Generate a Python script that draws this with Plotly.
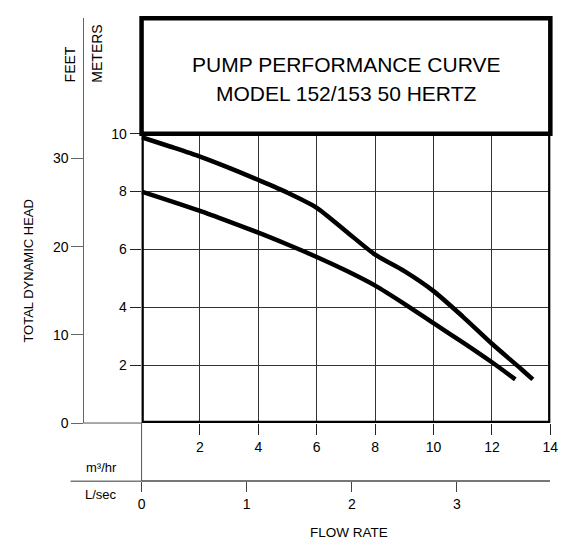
import plotly.graph_objects as go

# ---------------- data ----------------
flow_upper = [0, 1, 2, 3, 4, 5, 6, 7, 8, 9, 10, 11, 12, 13, 13.4]
head_upper = [9.88, 9.55, 9.21, 8.82, 8.40, 7.96, 7.44, 6.63, 5.82, 5.25, 4.56, 3.68, 2.74, 1.87, 1.51]
flow_lower = [0, 1, 2, 3, 4, 5, 6, 7, 8, 9, 10, 11, 12, 12.8]
head_lower = [8.0, 7.67, 7.33, 6.96, 6.58, 6.17, 5.74, 5.27, 4.75, 4.12, 3.45, 2.79, 2.10, 1.51]

m3hr_ticks = [2, 4, 6, 8, 10, 12, 14]
meter_ticks = [2, 4, 6, 8, 10]
feet_ticks = [0, 10, 20, 30]
lsec_ticks = [0, 1, 2, 3]

title_lines = ["PUMP PERFORMANCE CURVE", "MODEL 152/153 50 HERTZ"]

FLOW_MAX = 14          # m3/hr
HEAD_MAX_M = 10        # meters
M_PER_FT = 0.3048
M3HR_PER_LS = 3.6

# ---------------- geometry (pixels) ----------------
W, H = 574, 549
X0_PX, X1_PX = 140.5, 558.0
Y0_PX, Y1_PX = 427.5, 129.5
BOX_TOP_PX = 10.5
FEET_AXIS_PX = 81.0
LSEC_AXIS_PX = 487.5


def px(x):
    return x / W


def py(y):
    return 1 - y / H


m_per_px = HEAD_MAX_M / (Y0_PX - Y1_PX)
box_top_m = (Y0_PX - BOX_TOP_PX) * m_per_px

FONT = "Liberation Sans, Arial, sans-serif"
BLACK = "#000000"

fig = go.Figure()

for fx, hy in [(flow_upper, head_upper), (flow_lower, head_lower)]:
    fig.add_trace(go.Scatter(
        x=fx, y=hy, mode="lines", xaxis="x", yaxis="y",
        line=dict(color=BLACK, width=4.5, shape="spline", smoothing=0.7),
        hoverinfo="skip", showlegend=False))

# empty trace registering the secondary (L/sec, feet) axes
fig.add_trace(go.Scatter(x=[], y=[], xaxis="x2", yaxis="y2", showlegend=False, hoverinfo="skip"))

tickfont = dict(family=FONT, size=14, color=BLACK)

fig.update_layout(
    width=W, height=H, autosize=False,
    margin=dict(l=0, r=0, t=0, b=0, pad=0),
    paper_bgcolor="white", plot_bgcolor="rgba(0,0,0,0)",
    font=dict(family=FONT, color=BLACK),
    xaxis=dict(domain=[px(X0_PX), px(X1_PX)], range=[0, FLOW_MAX], anchor="y",
               tickmode="array", tickvals=m3hr_ticks, ticks="outside", ticklen=11,
               tickcolor="#222", tickwidth=1, showgrid=True, gridcolor="#333", gridwidth=1,
               showline=False, zeroline=False, tickfont=tickfont, fixedrange=True),
    yaxis=dict(domain=[py(Y0_PX), py(Y1_PX)], range=[0, HEAD_MAX_M], anchor="x",
               tickmode="array", tickvals=meter_ticks, ticks="outside", ticklen=11,
               tickcolor="#222", tickwidth=1, showgrid=True, gridcolor="#333", gridwidth=1,
               showline=False, zeroline=False, tickfont=tickfont, fixedrange=True),
    xaxis2=dict(domain=[px(X0_PX), px(X1_PX)], range=[0, FLOW_MAX / M3HR_PER_LS],
                anchor="free", position=py(LSEC_AXIS_PX), side="bottom",
                tickmode="array", tickvals=lsec_ticks, ticks="outside", ticklen=10,
                tickcolor="#444", tickwidth=1, showgrid=False, zeroline=False,
                showline=True, linecolor="#777", linewidth=1.5,
                tickfont=tickfont, fixedrange=True),
    yaxis2=dict(domain=[py(Y0_PX), py(BOX_TOP_PX)], range=[0, box_top_m / M_PER_FT],
                anchor="free", position=px(FEET_AXIS_PX), side="left",
                tickmode="array", tickvals=feet_ticks, ticks="outside", ticklen=12,
                tickcolor="#666", tickwidth=1, showgrid=False, zeroline=False,
                showline=True, linecolor="#666", linewidth=1,
                tickfont=tickfont, fixedrange=True),
)

shapes = [
    dict(type="line", xref="paper", yref="paper", x0=px(FEET_AXIS_PX), x1=px(X0_PX),
         y0=py(Y0_PX), y1=py(Y0_PX), line=dict(color="#555", width=1)),
    dict(type="line", xref="paper", yref="paper", x0=px(68), x1=px(X0_PX),
         y0=py(LSEC_AXIS_PX), y1=py(LSEC_AXIS_PX), line=dict(color="#777", width=1.5)),
    dict(type="line", xref="paper", yref="paper", x0=px(X0_PX), x1=px(X0_PX),
         y0=py(Y0_PX), y1=py(LSEC_AXIS_PX), line=dict(color="#555", width=1)),
    dict(type="rect", xref="x", yref="y", x0=0, x1=FLOW_MAX, y0=0, y1=HEAD_MAX_M,
         line=dict(color=BLACK, width=4.5), layer="above"),
    dict(type="rect", xref="paper", yref="paper", x0=px(X0_PX), x1=px(X1_PX),
         y0=py(Y1_PX), y1=py(BOX_TOP_PX), line=dict(color=BLACK, width=4.5), layer="above"),
]
fig.update_layout(shapes=shapes)


def ann(text, x, y, size, angle=0):
    return dict(text=text, x=px(x), y=py(y), xref="paper", yref="paper",
                xanchor="center", yanchor="middle", showarrow=False, textangle=angle,
                font=dict(family=FONT, size=size, color=BLACK))


cx = (X0_PX + X1_PX) / 2
annotations = [
    ann(title_lines[0], cx, 58, 21),
    ann(title_lines[1], cx, 88, 21),
    ann("FEET", 67.5, 58, 14, -90),
    ann("METERS", 95, 47, 14, -90),
    ann("TOTAL DYNAMIC HEAD", 25, 270, 13, -90),
    ann("m³/hr", 100, 473, 13),
    ann("L/sec", 99, 501, 13),
    ann("FLOW RATE", 352, 540, 13.5),
]
fig.update_layout(annotations=annotations)

post = (
    "document.documentElement.style.margin='0';"
    "document.documentElement.style.overflow='hidden';"
    "document.body.style.margin='0';"
    "document.body.style.overflow='hidden';"
)

fig.write_html(
    "out.html",
    config={"displayModeBar": False},
    post_script=post,
)
